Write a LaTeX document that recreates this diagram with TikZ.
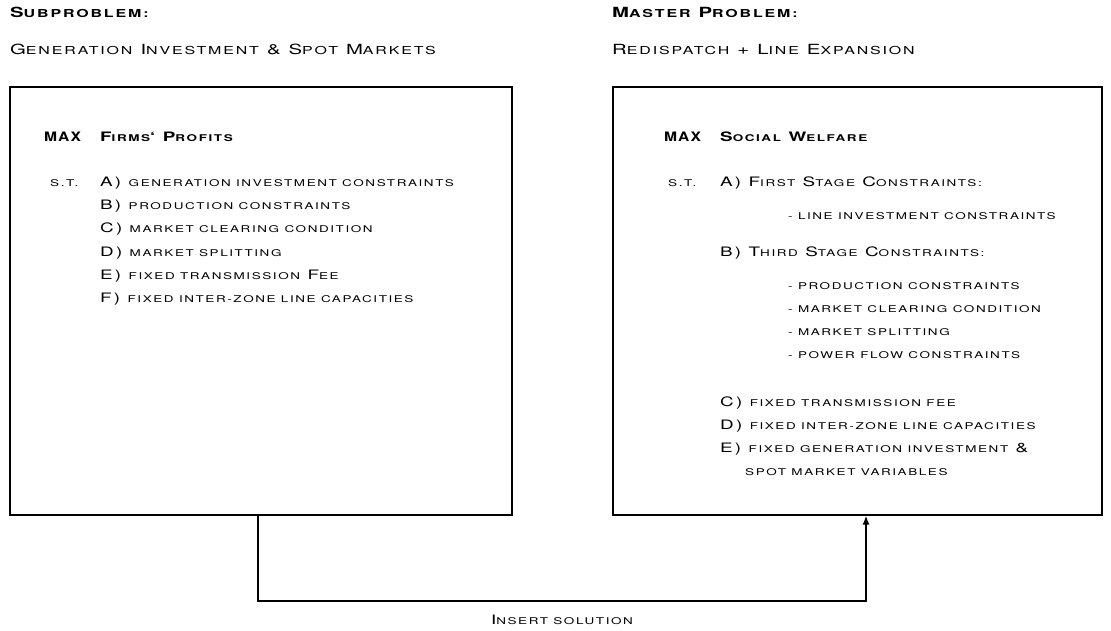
\documentclass[tikz,border=0pt]{standalone}
\usepackage{fontspec}
\usetikzlibrary{arrows.meta}
\newfontfamily\cgfont{TeX Gyre Heros}[LetterSpace=17, FakeStretch=1.45]
\newfontfamily\cgnarrow{TeX Gyre Heros}[LetterSpace=8, FakeStretch=1.2]
\newcommand\smz{9}
\newcommand\sm[1]{{\fontsize{\smz}{\smz}\selectfont\MakeUppercase{#1}}}
\begin{document}
\begin{tikzpicture}[x=1pt,y=-1pt,
  ttl/.style={anchor=base west, inner sep=0pt, font=\renewcommand\smz{11}\cgfont\fontsize{14}{16}\selectfont\bfseries},
  sub/.style={anchor=base west, inner sep=0pt, font=\renewcommand\smz{11}\cgfont\fontsize{14}{16}\selectfont},
  bd/.style={anchor=base west, inner sep=0pt, font=\renewcommand\smz{9.3}\cgfont\fontsize{13}{15}\selectfont},
  bdb/.style={anchor=base west, inner sep=0pt, font=\renewcommand\smz{9.3}\cgfont\fontsize{13}{15}\selectfont\bfseries},
  maxs/.style={anchor=base west, inner sep=0pt, font=\cgnarrow\fontsize{13}{15}\selectfont\bfseries},
  box/.style={draw, line width=1.6pt, anchor=north west, inner sep=0pt},
  conn/.style={line width=1.6pt, -{Latex[length=9pt,width=7pt]}}]
\useasboundingbox (0,0) rectangle (1111,631);
% headings
\node[ttl] (h1) at (10,17.5) {S\sm{ubproblem:}};
\node[sub] (h2) at (10,55) {G\sm{eneration} I\sm{nvestment} \& S\sm{pot} M\sm{arkets}};
\node[ttl] (h3) at (612,17.5) {M\sm{aster} P\sm{roblem:}};
\node[sub] (h4) at (612,55) {R\sm{edispatch} + L\sm{ine} E\sm{xpansion}};
% boxes
\node[box, minimum width=502pt, minimum height=428pt] (L) at (9,86) {};
\node[box, minimum width=489pt, minimum height=428pt] (R) at (612,86) {};
% left content
\node[maxs] (lmax) at (44,142) {MAX};
\node[bdb] (lobj) at (100,142) {F\sm{irms}‘ P\sm{rofits}};
\node[bd] (lst) at (50,187) {\sm{s.t.}};
\node[bd] (la) at (100,187) {A) \sm{generation investment constraints}};
\node[bd] (lb) at (100,210) {B) \sm{production constraints}};
\node[bd] (lc) at (100,233) {C) \sm{market clearing condition}};
\node[bd] (ld) at (100,256) {D) \sm{market splitting}};
\node[bd] (le) at (100,279) {E) \sm{fixed transmission} F\sm{ee}};
\node[bd] (lf) at (100,302) {F) \sm{fixed inter-zone line capacities}};
% right content
\node[maxs] (rmax) at (664,142) {MAX};
\node[bdb] (robj) at (720,142) {S\sm{ocial} W\sm{elfare}};
\node[bd] (rst) at (668,187) {\sm{s.t.}};
\node[bd] (ra) at (720,187) {A) F\sm{irst} S\sm{tage} C\sm{onstraints:}};
\node[bd] (ra1) at (788,220) {\sm{- line investment constraints}};
\node[bd] (rb) at (720,256) {B) T\sm{hird} S\sm{tage} C\sm{onstraints:}};
\node[bd] (rb1) at (788,289) {\sm{- production constraints}};
\node[bd] (rb2) at (788,312) {\sm{- market clearing condition}};
\node[bd] (rb3) at (788,335) {\sm{- market splitting}};
\node[bd] (rb4) at (788,358) {\sm{- power flow constraints}};
\node[bd] (rc) at (720,406) {C) \sm{fixed transmission fee}};
\node[bd] (rd) at (720,429) {D) \sm{fixed inter-zone line capacities}};
\node[bd] (re) at (720,452) {E) \sm{fixed generation investment} \&};
\node[bd] (re2) at (745,475) {\sm{spot market variables}};
% connector
\coordinate (ls) at (258,514);
\coordinate (rs) at (866,514);
\coordinate (bot) at (258,601);
\draw[conn] (L.south -| ls) -- (bot) -| (R.south -| rs);
\node[bd, anchor=base] (lbl) at (562,624) {I\sm{nsert solution}};
\end{tikzpicture}
\end{document}
